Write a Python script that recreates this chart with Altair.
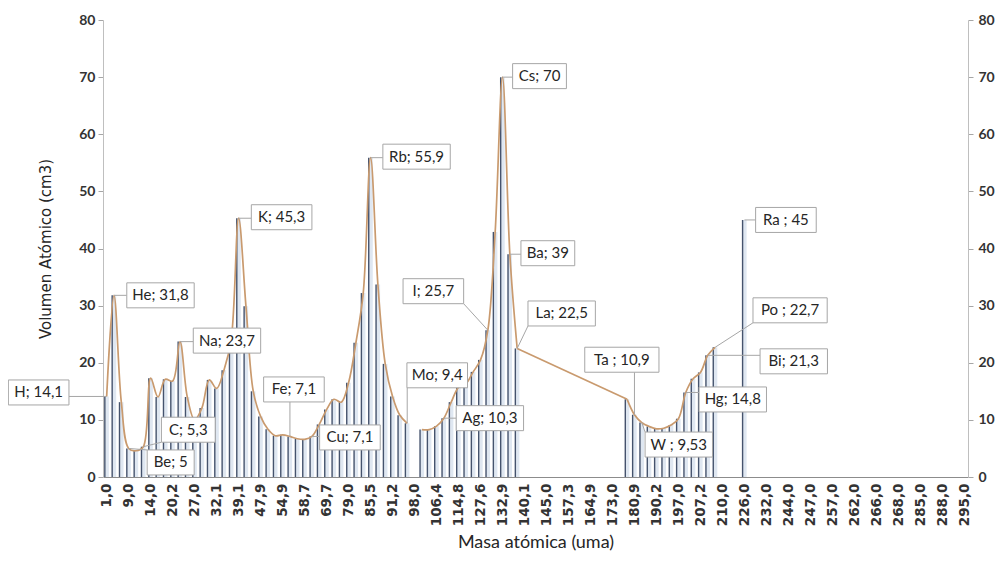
import altair as alt
import pandas as pd

# ---------------- data ----------------
symbols = ["H","He","Li","Be","B","C","N","O","F","Ne","Na","Mg","Al","Si","P","S","Cl","Ar",
           "K","Ca","Sc","Ti","V","Cr","Mn","Fe","Co","Ni","Cu","Zn","Ga","Ge","As","Se","Br","Kr",
           "Rb","Sr","Y","Zr","Nb","Mo","Tc","Ru","Rh","Pd","Ag","Cd","In","Sn","Sb","Te","I","Xe",
           "Cs","Ba","La","Ce","Pr","Nd","Pm","Sm","Eu","Gd","Tb","Dy","Ho","Er","Tm","Yb","Lu",
           "Hf","Ta","W","Re","Os","Ir","Pt","Au","Hg","Tl","Pb","Bi","Po","At","Rn",
           "Fr","Ra","Ac","Th","Pa","U","Np","Pu","Am","Cm","Bk","Cf","Es","Fm","Md","No","Lr",
           "Rf","Db","Sg","Bh","Hs","Mt","Ds","Rg","Cn","Nh","Fl","Mc","Lv","Ts","Og"]

masses = [1.0,4.0,6.9,9.0,10.8,12.0,14.0,16.0,19.0,20.2,23.0,24.3,27.0,28.1,31.0,32.1,35.5,39.9,
          39.1,40.1,45.0,47.9,50.9,52.0,54.9,55.8,58.9,58.7,63.5,65.4,69.7,72.6,74.9,79.0,79.9,83.8,
          85.5,87.6,88.9,91.2,92.9,95.9,98.0,101.1,102.9,106.4,107.9,112.4,114.8,118.7,121.8,127.6,126.9,131.3,
          132.9,137.3,138.9,140.1,140.9,144.2,145.0,150.4,152.0,157.3,158.9,162.5,164.9,167.3,168.9,173.0,175.0,
          178.5,180.9,183.8,186.2,190.2,192.2,195.1,197.0,200.6,204.4,207.2,209.0,209.0,210.0,222.0,
          223.0,226.0,227.0,232.0,232.0,238.0,237.0,244.0,243.0,247.0,247.0,251.0,252.0,257.0,258.0,259.0,262.0,
          261.0,262.0,266.0,264.0,269.0,268.0,281.0,280.0,285.0,284.0,288.0,288.0,293.0,294.0,295.0]

N = None
volumes = [14.1,31.8,13.1,5.0,4.6,5.3,17.3,14.0,17.1,16.8,23.7,14.0,10.0,12.1,17.0,15.5,18.7,24.2,
           45.3,29.9,15.0,10.6,8.35,7.23,7.39,7.1,6.7,6.6,7.1,9.2,11.8,13.6,13.1,16.5,23.5,32.2,
           55.9,33.7,19.8,14.1,10.8,9.4,N,8.3,8.3,8.9,10.3,13.1,15.7,16.3,18.4,20.5,25.7,42.9,
           70.0,39.0,22.5,N,N,N,N,N,N,N,N,N,N,N,N,N,N,
           13.6,10.9,9.53,8.85,8.43,8.54,9.10,10.2,14.8,17.2,18.3,21.3,22.7,N,N,
           N,45.0,N,N,N,N,N,N,N,N,N,N,N,N,N,N,N,
           N,N,N,N,N,N,N,N,N,N,N,N,N,N,N]

# trend line pieces (Tc missing breaks it; La -> Hf is a straight jump; Ra only as bar)
smooth_pieces = [symbols[0:42], symbols[43:57], symbols[71:84]]   # H..Mo, Ru..La, Hf..Po
straight_pieces = [["La", "Hf"]]

# callouts: element, label text
callout_labels = [("H","H; 14,1"),("He","He; 31,8"),("K","K; 45,3"),("Na","Na; 23,7"),
                  ("C","C; 5,3"),("Be","Be; 5"),("Fe","Fe; 7,1"),("Cu","Cu; 7,1"),
                  ("Rb","Rb; 55,9"),("Mo","Mo; 9,4"),("I","I; 25,7"),("Ag","Ag; 10,3"),
                  ("Cs","Cs; 70"),("Ba","Ba; 39"),("La","La; 22,5"),("Ta","Ta ; 10,9"),
                  ("W","W ; 9,53"),("Hg","Hg; 14,8"),("Bi","Bi; 21,3"),("Po","Po ; 22,7"),
                  ("Ra","Ra ; 45")]
# callout box offsets from the point, in pixels (layout only)
callout_offsets = {"H":(-68,-4),"He":(46.5,0),"K":(43,-1),"Na":(47,-1),"C":(45,-17),
                   "Be":(42,14),"Fe":(4,-47),"Cu":(38,1),"Rb":(46,-1),"Mo":(30,-48),
                   "I":(-54.5,-39),"Ag":(46,0),"Cs":(37,-1),"Ba":(38,-1),"La":(44.5,-35),
                   "Ta":(-12.6,-55),"W":(37,22),"Hg":(47,7),"Bi":(86,6),"Po":(75,-37),
                   "Ra":(41.5,0)}

# ---------------- layout ----------------
W, H = 865, 457
NCAT = len(symbols)
YMAX = 80
PX_X = W / NCAT
PX_Y = H / YMAX

def fmt(m):
    return f"{m:.1f}".replace(".", ",")

df = pd.DataFrame({"idx": range(NCAT), "sym": symbols, "mass": [fmt(m) for m in masses],
                   "vol": volumes})
df["xl"] = df["idx"] + 0.25
df["xr"] = df["idx"] + 0.8
df["xc"] = df["idx"] + 0.5
bars = df.dropna(subset=["vol"])

def pieces_df(pieces):
    rows = []
    for s, syms in enumerate(pieces):
        for sym in syms:
            r = df[df["sym"] == sym].iloc[0]
            rows.append({"xc": r["xc"], "vol": r["vol"], "seg": s})
    return pd.DataFrame(rows)

smooth_df = pieces_df(smooth_pieces)
straight_df = pieces_df(straight_pieces)

crows = []
for sym, text in callout_labels:
    r = df[df["sym"] == sym].iloc[0]
    dx, dy = callout_offsets[sym]
    px, py = r["xc"], r["vol"]
    cx = px + dx / PX_X
    cy = py - dy / PX_Y
    bw = 6.8 * len(text) + 13
    hw = bw / 2 / PX_X
    hh = 12.5 / PX_Y
    x0, x1, y0, y1 = cx - hw, cx + hw, cy - hh, cy + hh
    ex = min(max(px, x0), x1)
    ey = min(max(py, y0), y1)
    crows.append(dict(text=text, px=px, py=py, cx=cx, cy=cy, x0=x0, x1=x1, y0=y0, y1=y1,
                      ex=ex, ey=ey))
cdf = pd.DataFrame(crows)

tick_idx = list(range(0, NCAT, 3))
tick_vals = [i + 0.5 for i in tick_idx]
tick_labels = [fmt(masses[i]) for i in tick_idx]
labels_js = "[" + ",".join("'" + t + "'" for t in tick_labels) + "]"

xscale = alt.Scale(domain=[0, NCAT], nice=False, zero=False)
yscale = alt.Scale(domain=[0, YMAX], nice=False, zero=True)

x_axis = alt.Axis(values=tick_vals, labelExpr=f"{labels_js}[floor(datum.value / 3)]",
                  labelAngle=-90, labelFont="DejaVu Sans", labelFontWeight="bold",
                  labelFontSize=13.5, labelColor="#333333", labelPadding=6, ticks=False,
                  domainColor="#8c8c8c", domainWidth=1.2, grid=False,
                  title="Masa atómica (uma)", titleFont="Lato", titleFontSize=18,
                  titleFontWeight="normal", titleColor="#262626", titlePadding=8)

yvals = list(range(0, YMAX + 1, 10))
y_left = alt.Axis(values=yvals, labelFont="Lato", labelFontWeight="bold", labelFontSize=14,
                  labelColor="#333333", labelPadding=3, tickSize=5, tickColor="#a6a6a6",
                  domainColor="#bfbfbf", grid=False, title="Volumen Atómico (cm3)",
                  titleFont="DejaVu Sans", titleFontSize=15, titleFontWeight="normal",
                  titleColor="#262626", titlePadding=25)
y_right = alt.Axis(values=yvals, orient="right", labelFont="Lato", labelFontWeight="bold",
                   labelFontSize=14, labelColor="#333333", labelPadding=5, tickSize=5,
                   tickColor="#a6a6a6", domainColor="#bfbfbf", grid=False, title=None)

def X(field):
    return alt.X(field, scale=xscale, axis=x_axis)

def Y(field, axis=None):
    return alt.Y(field, scale=yscale, axis=axis)

bar_fill = alt.Chart(bars).mark_bar(color="#dfe7f1").encode(
    x=X("xl:Q"), x2="xr:Q", y=Y("vol:Q", y_left), y2=alt.datum(0),
)
bar_edge = alt.Chart(bars).mark_rule(color="#45536d", strokeWidth=1.4).encode(
    x=X("xl:Q"), y=Y("vol:Q"), y2=alt.datum(0),
)
line_smooth = alt.Chart(smooth_df).mark_line(color="#c99a6e", strokeWidth=1.7,
                                             interpolate="catmull-rom").encode(
    x=X("xc:Q"), y=Y("vol:Q", y_right), detail="seg:N",
)
line_straight = alt.Chart(straight_df).mark_line(color="#c99a6e", strokeWidth=1.7).encode(
    x=X("xc:Q"), y=Y("vol:Q"), detail="seg:N",
)
leaders = alt.Chart(cdf).mark_rule(color="#a6a6a6", strokeWidth=1).encode(
    x=X("px:Q"), x2="ex:Q", y=Y("py:Q"), y2="ey:Q",
)
boxes = alt.Chart(cdf).mark_rect(fill="white", stroke="#a6a6a6", strokeWidth=1).encode(
    x=X("x0:Q"), x2="x1:Q", y=Y("y0:Q"), y2="y1:Q",
)
texts = alt.Chart(cdf).mark_text(font="Lato", fontSize=15, color="#262626",
                                 align="center", baseline="middle").encode(
    x=X("cx:Q"), y=Y("cy:Q"), text="text:N",
)

chart = alt.layer(bar_fill, bar_edge, line_smooth, line_straight, leaders, boxes, texts).resolve_scale(
    y="independent"
).properties(
    width=W, height=H,
    autosize=alt.AutoSizeParams(type="none"),
    padding={"left": 95, "top": 12, "right": 32, "bottom": 80},
    background="white",
).configure_view(strokeWidth=0)

chart.save("out.html", embed_options={"renderer": "svg", "actions": False})
